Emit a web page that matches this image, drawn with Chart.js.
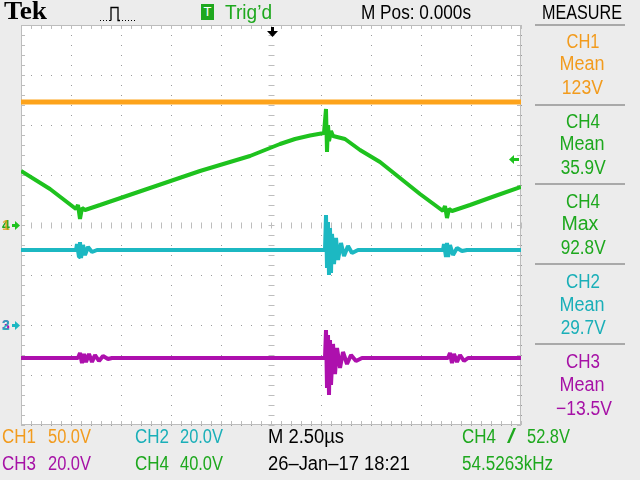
<!DOCTYPE html>
<html>
<head>
<meta charset="utf-8">
<script src="https://cdn.jsdelivr.net/npm/chart.js@4/dist/chart.umd.min.js"></script>
<style>
  body { margin: 0; background: #ececec; }
  #wrap { position: relative; width: 640px; height: 480px; overflow: hidden; }
  canvas { position: absolute; left: 0; top: 0; }
  .t { position: absolute; font: 20px "Liberation Sans", sans-serif; line-height: 20px; white-space: pre; transform-origin: 0 0; }
  .m { transform-origin: 50% 0; }
  .sep { position: absolute; left: 535px; width: 90px; height: 2px; background: #a9a9a9; }
  .orange { color: #f29b1d; }
  .green { color: #1ea81e; }
  .cyan { color: #1aafb8; }
  .magenta { color: #a612a6; }
</style>
</head>
<body>
<div id="wrap">
  <canvas id="scope" width="640" height="480"></canvas>

  <div class="t" style="left:4px;top:-2px;font:bold 25px 'Liberation Serif',serif;line-height:25px;" data-w="43">Tek</div>
  <svg style="position:absolute;left:98px;top:3px" width="42" height="20">
    <path d="M2 17.5h1M5 17.5h1M8 17.5h1M11 17.5h2" stroke="#000" stroke-width="1"/>
    <path d="M13 17.5V4.5h7v13h2" stroke="#000" stroke-width="1.3" fill="none"/>
    <path d="M24 17.5h1M27 17.5h1M30 17.5h1M33 17.5h1M36 17.5h1" stroke="#000" stroke-width="1"/>
  </svg>
  <div style="position:absolute;left:201px;top:4px;width:13px;height:16px;background:#1ea81e;color:#fff;font:13px 'Liberation Sans',sans-serif;line-height:16px;text-align:center;">T</div>
  <div class="t green" style="left:225px;top:2px" data-w="47">Trig’d</div>
  <div class="t" style="left:361px;top:2px" data-w="110">M Pos: 0.000s</div>
  <div class="t" style="left:542px;top:2px" data-w="80">MEASURE</div>

  <div class="sep" style="top:24px"></div>
  <div class="t m orange" style="left:563px;top:31px" data-w="33">CH1</div>
  <div class="t m orange" style="left:557px;top:53px" data-w="45">Mean</div>
  <div class="t m orange" style="left:559px;top:77px" data-w="41">123V</div>
  <div class="sep" style="top:104px"></div>
  <div class="t m green" style="left:563px;top:111px" data-w="34">CH4</div>
  <div class="t m green" style="left:557px;top:133px" data-w="45">Mean</div>
  <div class="t m green" style="left:557px;top:157px" data-w="45">35.9V</div>
  <div class="sep" style="top:183px"></div>
  <div class="t m green" style="left:563px;top:191px" data-w="34">CH4</div>
  <div class="t m green" style="left:561px;top:213px" data-w="37">Max</div>
  <div class="t m green" style="left:557px;top:237px" data-w="45">92.8V</div>
  <div class="sep" style="top:263px"></div>
  <div class="t m cyan" style="left:563px;top:271px" data-w="34">CH2</div>
  <div class="t m cyan" style="left:557px;top:294px" data-w="45">Mean</div>
  <div class="t m cyan" style="left:557px;top:317px" data-w="45">29.7V</div>
  <div class="sep" style="top:343px"></div>
  <div class="t m magenta" style="left:563px;top:351px" data-w="34">CH3</div>
  <div class="t m magenta" style="left:557px;top:374px" data-w="45">Mean</div>
  <div class="t m magenta" style="left:552px;top:398px" data-w="56">−13.5V</div>

  <div class="t orange" style="left:2px;top:426px" data-w="34">CH1</div>
  <div class="t orange" style="left:48px;top:426px" data-w="43">50.0V</div>
  <div class="t cyan" style="left:135px;top:426px" data-w="34">CH2</div>
  <div class="t cyan" style="left:180px;top:426px" data-w="43">20.0V</div>
  <div class="t" style="left:268px;top:426px" data-w="76">M 2.50µs</div>
  <div class="t green" style="left:462px;top:426px" data-w="34">CH4</div>
  <div class="t green" style="left:507px;top:426px" data-w="9">/</div>
  <div class="t green" style="left:527px;top:426px" data-w="43">52.8V</div>

  <div class="t magenta" style="left:2px;top:453px" data-w="34">CH3</div>
  <div class="t magenta" style="left:48px;top:453px" data-w="43">20.0V</div>
  <div class="t green" style="left:135px;top:453px" data-w="34">CH4</div>
  <div class="t green" style="left:180px;top:453px" data-w="43">40.0V</div>
  <div class="t" style="left:268px;top:453px" data-w="142">26–Jan–17 18:21</div>
  <div class="t green" style="left:462px;top:453px" data-w="91">54.5263kHz</div>
</div>

<script>
// time in µs (M 2.50µs/div, 10 div), values in volts
const ch1Time  = [-12.5, 12.5];
const ch1Volts = [123, 123];

const ch4Time  = [-12.5, -11.05, -9.75, -9.65, -9.55, -9.45, -9.3, -8.55, -6.05, -3.55, -1.05, 0.45, 1.2, 1.95, 2.65,
                  2.75, 2.8, 2.85, 2.9, 3.0, 3.1, 3.7, 4.45, 5.45, 6.45, 7.45, 8.6, 8.7, 8.8, 8.9, 9.05, 9.95, 11.2, 12.5];
const ch4Volts = [43.2, 28.8, 12.8, 16, 4.8, 13.6, 12, 16, 29.6, 43.2, 55.2, 64.8, 68.8, 71.6, 73.6,
                  92.8, 58.4, 80, 67.2, 75.2, 71.2, 68.8, 60, 50.4, 37.6, 24.8, 11.2, 15.2, 5.6, 12.8, 11.2, 16, 23.2, 30.4];

const ch2Time  = [-12.5, -9.75, -9.7, -9.6, -9.55, -9.5, -9.4, -9.3, -9.15, -8.95, -8.7,
                  2.7, 2.75, 2.8, 2.85, 2.9, 2.95, 3.0, 3.05, 3.15, 3.25, 3.35, 3.5, 3.65, 3.85, 4.05, 4.35,
                  8.6, 8.65, 8.75, 8.8, 8.85, 8.95, 9.1, 9.3, 9.55, 9.8, 12.5];
const ch2Volts = [30, 30, 32.4, 27.2, 33.2, 26.8, 32, 28, 31.2, 29.2, 30,
                  30, 44, 22.8, 41.2, 20, 38.8, 20.8, 36.4, 24.4, 34.8, 26, 32.8, 27.6, 31.6, 28.8, 30,
                  30, 32.4, 27.2, 32.8, 27.2, 32, 28, 30.8, 29.6, 30, 30];

const ch3Time  = [-12.5, -9.65, -9.55, -9.45, -9.35, -9.25, -9.1, -8.95, -8.8, -8.6, -8.4, -8.15, -7.95,
                  2.7, 2.75, 2.8, 2.85, 2.9, 2.95, 3.0, 3.1, 3.2, 3.3, 3.45, 3.6, 3.8, 4.0, 4.25, 4.55,
                  8.85, 8.95, 9.05, 9.15, 9.3, 9.45, 9.65, 9.85, 12.5];
const ch3Volts = [-13.2, -13.2, -11.2, -15.2, -11.6, -14.8, -11.6, -14.8, -12, -14.4, -12.4, -13.6, -13.2,
                  -13.2, -2, -25.2, -4, -28, -6, -24, -7.6, -19.6, -9.2, -17.2, -10.8, -15.6, -12, -14.4, -13.2,
                  -13.2, -11.2, -15.2, -11.6, -14.8, -12, -14.4, -13.2, -13.2];

// vertical scale (V/div) and ground position (div from centre)
const chScale  = { ch1: 50, ch2: 20, ch3: 20, ch4: 40 };
const chGround = { ch1: 0, ch2: -2, ch3: -2, ch4: 0 };
const trigLevel = 52.8; // CH4

const colors = { ch1: "#fda31b", ch2: "#1cb8c2", ch3: "#ad10ad", ch4: "#1ec21e" };

// squeeze the text to the scope's narrow font widths
document.querySelectorAll(".t[data-w]").forEach((el) => {
  const w = el.getBoundingClientRect().width;
  el.style.transform = `scaleX(${Number(el.dataset.w) / w})`;
});

function toDiv(ch, times, volts) {
  return times.map((t, i) => ({ x: t, y: chGround[ch] + volts[i] / chScale[ch] }));
}

function trace(ch, times, volts, width) {
  return {
    label: ch.toUpperCase(),
    data: toDiv(ch, times, volts),
    borderColor: colors[ch],
    borderWidth: width,
    pointRadius: 0,
    tension: 0,
    borderJoinStyle: "bevel"
  };
}

const scopePlugin = {
  id: "scope",
  beforeDraw(chart) {
    const { ctx, chartArea: a } = chart;
    ctx.save();
    ctx.fillStyle = "#fff";
    ctx.fillRect(a.left, a.top, a.right - a.left, a.bottom - a.top);
    ctx.restore();
  },
  beforeDatasetsDraw(chart) {
    const { ctx, chartArea: a, scales } = chart;
    const cx = Math.round(scales.x.getPixelForValue(0)) + 0.5;
    const cy = Math.round(scales.y.getPixelForValue(0)) + 0.5;
    ctx.save();
    ctx.strokeStyle = "#bdbdbd";
    ctx.lineWidth = 1;
    ctx.beginPath();
    for (let i = 0; i <= 50; i++) {
      const px = Math.round(scales.x.getPixelForValue(-12.5 + i * 0.5)) + 0.5;
      ctx.moveTo(px, cy - 3); ctx.lineTo(px, cy + 3);
      ctx.moveTo(px, a.top); ctx.lineTo(px, a.top + 4);
      ctx.moveTo(px, a.bottom); ctx.lineTo(px, a.bottom - 4);
    }
    for (let i = 0; i <= 40; i++) {
      const py = Math.round(scales.y.getPixelForValue(-4 + i * 0.2)) + 0.5;
      ctx.moveTo(cx - 3, py); ctx.lineTo(cx + 3, py);
      ctx.moveTo(a.left, py); ctx.lineTo(a.left + 4, py);
      ctx.moveTo(a.right, py); ctx.lineTo(a.right - 4, py);
    }
    ctx.stroke();
    ctx.strokeRect(a.left + 0.5, a.top + 0.5, a.right - a.left - 1, a.bottom - a.top - 1);
    ctx.restore();
  },
  afterDatasetsDraw(chart) {
    const { ctx, chartArea: a, scales } = chart;
    ctx.save();
    ctx.font = "bold 14px 'Liberation Sans', sans-serif";
    ctx.textBaseline = "middle";

    function ground(ch, label, arrowColor, labelColors) {
      const y = Math.round(scales.y.getPixelForValue(chGround[ch]));
      labelColors.forEach((c, i) => { ctx.fillStyle = c; ctx.fillText(label[i], 2, y + 1); });
      ctx.fillStyle = arrowColor;
      ctx.fillRect(12, y - 1, 4, 3);
      ctx.beginPath();
      ctx.moveTo(15, y - 4); ctx.lineTo(20, y + 0.5); ctx.lineTo(15, y + 5); ctx.closePath();
      ctx.fill();
    }
    ground("ch4", "41", colors.ch4, ["#1ea81e", "rgba(226,163,26,0.8)"]);
    ground("ch2", "32", colors.ch2, [colors.ch3, "rgba(28,184,194,0.85)"]);

    // trigger level (CH4)
    const ty = Math.round(scales.y.getPixelForValue(chGround.ch4 + trigLevel / chScale.ch4));
    ctx.fillStyle = colors.ch4;
    ctx.fillRect(a.right - 8, ty - 1, 6, 3);
    ctx.beginPath();
    ctx.moveTo(a.right - 7, ty - 4); ctx.lineTo(a.right - 12, ty + 0.5); ctx.lineTo(a.right - 7, ty + 5); ctx.closePath();
    ctx.fill();

    // trigger position
    const tx = Math.round(scales.x.getPixelForValue(0)) + 1;
    ctx.fillStyle = "#000";
    ctx.fillRect(tx - 1, a.top + 2, 3, 5);
    ctx.beginPath();
    ctx.moveTo(tx - 5, a.top + 6); ctx.lineTo(tx + 6, a.top + 6); ctx.lineTo(tx + 0.5, a.top + 12); ctx.closePath();
    ctx.fill();
    ctx.restore();
  }
};

new Chart(document.getElementById("scope"), {
  type: "line",
  data: {
    datasets: [
      trace("ch1", ch1Time, ch1Volts, 5),
      trace("ch2", ch2Time, ch2Volts, 4),
      trace("ch3", ch3Time, ch3Volts, 4),
      trace("ch4", ch4Time, ch4Volts, 4)
    ]
  },
  options: {
    responsive: false,
    devicePixelRatio: 1,
    animation: false,
    layout: { padding: { left: 21, right: 119, top: 25, bottom: 55 } },
    plugins: { legend: { display: false }, tooltip: { enabled: false } },
    scales: {
      x: {
        type: "linear", min: -12.5, max: 12.5,
        ticks: { display: false, stepSize: 2.5 },
        grid: { color: "#9a9a9a", drawTicks: false },
        border: { display: false, dash: [1, 9] }
      },
      y: {
        type: "linear", min: -4, max: 4,
        ticks: { display: false, stepSize: 1 },
        grid: { color: "#9a9a9a", drawTicks: false },
        border: { display: false, dash: [1, 9] }
      }
    }
  },
  plugins: [scopePlugin]
});
</script>
</body>
</html>
